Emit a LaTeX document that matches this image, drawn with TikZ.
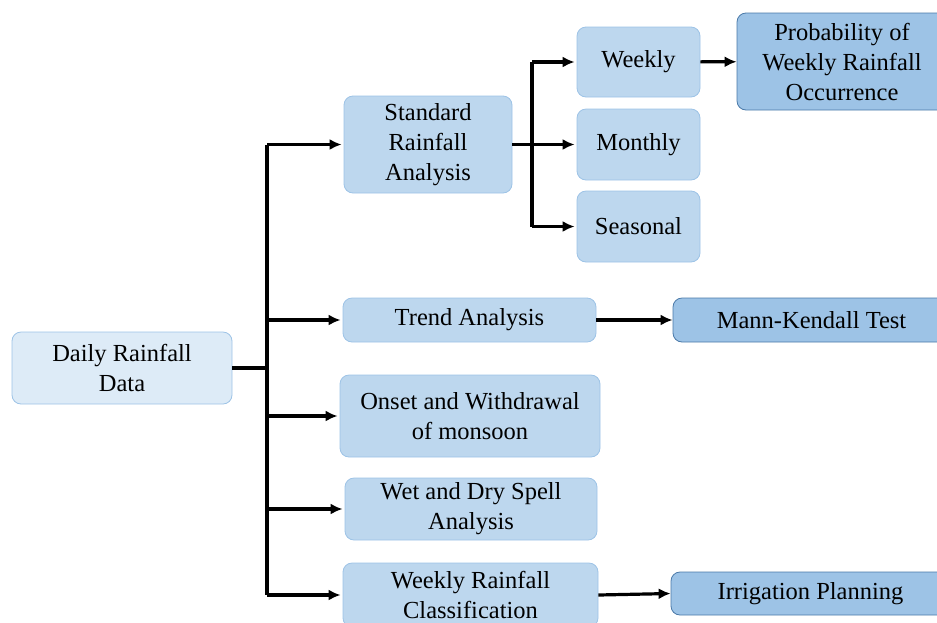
\documentclass[tikz,border=0pt]{standalone}
\usepackage{fontspec}
\setmainfont{Liberation Serif}
\usetikzlibrary{%
    arrows.meta,
    calc,
    positioning
}
\definecolor{paleblue}{HTML}{DDEBF7}
\definecolor{midblue}{HTML}{BDD7EE}
\definecolor{deepblue}{HTML}{9DC3E6}
\definecolor{edgeblue}{HTML}{9DC3E6}
\definecolor{darkedge}{HTML}{4A79A8}
\tikzset{headarrow/.style = {-{Latex[length=12pt,width=11pt]}, line width=3.2pt}}
\tikzset{plainline/.style = {line width=3.2pt}}
\tikzset{box/.style = {draw=edgeblue, line width=0.8pt, rounded corners=9pt,
    align=center, inner sep=0pt, font=\fontsize{24.5}{30}\selectfont}}
\tikzset{inbox/.style = {box, fill=paleblue}}
\tikzset{midbox/.style = {box, fill=midblue}}
\tikzset{outbox/.style = {box, fill=deepblue, draw=darkedge}}

\begin{document}
\begin{tikzpicture}[x=1pt,y=-1pt]
    \useasboundingbox (0,0) rectangle (937,622);
    \clip (0,0) rectangle (937,622);

    \node[inbox, minimum width=220pt, minimum height=72pt] (daily) at (122,368) {Daily Rainfall\\Data};

    \node[midbox, minimum width=168pt, minimum height=97pt] (std) at (428,144.5) {Standard\\Rainfall\\Analysis};
    \node[midbox, minimum width=253pt, minimum height=44pt] (trend) at (469.5,320) {Trend Analysis};
    \node[midbox, minimum width=260pt, minimum height=82pt] (onset) at (470,416) {Onset and Withdrawal\\of monsoon};
    \node[midbox, minimum width=252pt, minimum height=62pt] (spell) at (471,509) {Wet and Dry Spell\\Analysis};
    \node[midbox, minimum width=255pt, minimum height=64pt] (classif) at (470.5,595) {Weekly Rainfall\\Classification};

    \node[midbox, minimum width=123pt, minimum height=70pt] (weekly) at (638.5,62) {Weekly};
    \node[midbox, minimum width=123pt, minimum height=71pt] (monthly) at (638.5,144.5) {Monthly};
    \node[midbox, minimum width=123pt, minimum height=71pt] (seasonal) at (638.5,226.5) {Seasonal};

    \node[outbox, minimum width=210pt, minimum height=97pt] (prob) at (842,61.5) {Probability of\\Weekly Rainfall\\Occurrence};
    \node[outbox, minimum width=277pt, minimum height=44pt] (mk) at (811.5,320) {Mann-Kendall Test};
    \node[outbox, minimum width=279pt, minimum height=43pt] (irrig) at (810.5,593.5) {Irrigation Planning};

    % main trunk
    \coordinate (trunk) at (267,0);
    \draw[plainline] (daily.east) -- (daily.east -| trunk);
    \draw[plainline] (std.west -| trunk) -- (classif.west -| trunk);
    \foreach \n in {std,trend,onset,spell,classif}
    \draw[headarrow] (\n.west -| trunk) -- ([xshift=-2pt]\n.west);

    % standard analysis branch
    \coordinate (fork) at (532,0);
    \draw[plainline] (std.east) -- (std.east -| fork);
    \draw[plainline] (weekly.west -| fork) -- (seasonal.west -| fork);
    \foreach \n in {weekly,monthly,seasonal}
    \draw[headarrow] (\n.west -| fork) -- ([xshift=-2pt]\n.west);

    % results
    \draw[headarrow] (weekly) -- (prob);
    \draw[headarrow] (trend) -- (mk);
    \draw[headarrow] (classif.east) -- (irrig.west);
\end{tikzpicture}
\end{document}
